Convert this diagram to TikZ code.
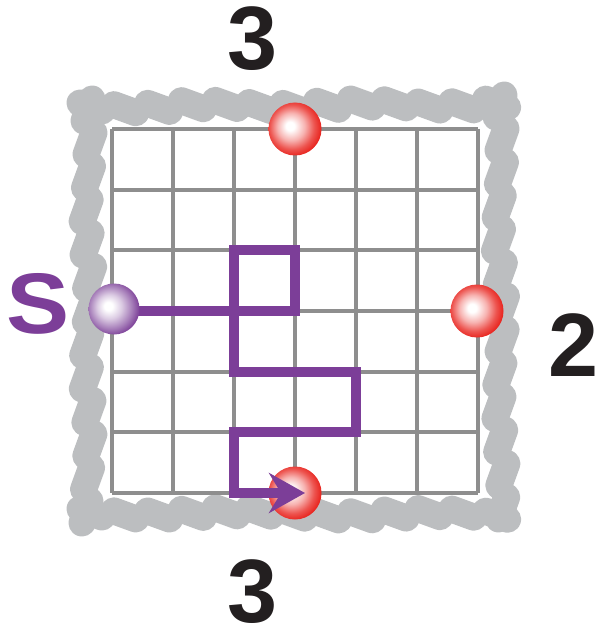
\documentclass[tikz,border=0pt]{standalone}
\usepackage{fontspec}
\setmainfont{Liberation Sans}
\usetikzlibrary{arrows.meta}
\definecolor{purp}{RGB}{124,62,152}
\definecolor{gridgray}{RGB}{142,142,142}
\definecolor{bordergray}{RGB}{188,190,192}
\definecolor{ballred}{RGB}{232,36,30}
\definecolor{ballpurp}{RGB}{128,70,155}
\definecolor{inkblack}{RGB}{35,31,32}
\pgfdeclareradialshading{redball}{\pgfqpoint{-5bp}{3bp}}{color(0bp)=(white); color(4bp)=(white); color(13bp)=(ballred!35!white); color(21bp)=(ballred!78!white); color(27bp)=(ballred); color(50bp)=(ballred)}
\pgfdeclareradialshading{purpleball}{\pgfqpoint{-6bp}{3bp}}{color(0bp)=(white); color(4bp)=(white); color(12bp)=(ballpurp!28!white); color(21bp)=(ballpurp!70!white); color(27bp)=(ballpurp); color(50bp)=(ballpurp)}
\begin{document}
\begin{tikzpicture}[x=1pt,y=-1pt,
  gridline/.style={gridgray, line width=4pt},
  blob/.style={bordergray, line width=27pt, line cap=round},
  route/.style={purp, line width=10pt, line join=miter, line cap=butt},
  redsphere/.style={circle, minimum size=53pt, inner sep=0pt, shade, shading=redball},
  purpsphere/.style={circle, minimum size=51pt, inner sep=0pt, shade, shading=purpleball},
  bignum/.style={inner sep=0pt, text=inkblack, font=\fontsize{90}{90}\selectfont\bfseries}
]
\useasboundingbox (0,0) rectangle (597,631);
% squiggly border, drawn as overlapping brush strokes
\foreach \k in {0,...,12} {
  % top
  \pgfmathsetmacro\cx{91+33.8*\k}\pgfmathsetmacro\cy{107+2*sin(\k*77)-0.25*\k}
  \draw[blob] (\cx-11,\cy-4) -- (\cx+11,\cy+4);
  % bottom
  \pgfmathsetmacro\cx{91+33.8*\k}\pgfmathsetmacro\cy{513+2*sin(\k*61)+0.15*\k}
  \draw[blob] (\cx-11,\cy-4) -- (\cx+11,\cy+4);
  % left
  \pgfmathsetmacro\cx{88+2*sin(\k*83)}\pgfmathsetmacro\cy{110+33.5*\k}
  \draw[blob] (\cx+4,\cy-11) -- (\cx-4,\cy+11);
  % right
  \pgfmathsetmacro\cx{500+2*sin(\k*71)+0.1*\k}\pgfmathsetmacro\cy{106+33.5*\k}
  \draw[blob] (\cx+4,\cy-11) -- (\cx-4,\cy+11);
}
% grid
\foreach \i in {0,...,6} {
  \draw[gridline] ({112+61*\i},129) -- ({112+61*\i},493);
  \draw[gridline] (112,{129+60.67*\i}) -- (478,{129+60.67*\i});
}
% corner coordinates
\coordinate (c1) at (295,311);
\coordinate (c2) at (295,250.3);
\coordinate (c3) at (234,250.3);
\coordinate (c4) at (234,371.7);
\coordinate (c5) at (356,371.7);
\coordinate (c6) at (356,432.3);
\coordinate (c7) at (234,432.3);
\coordinate (c8) at (234,493);
\coordinate (tip) at (305,493);
% spheres
\node[redsphere] (bottom) at (295,493) {};
\node[redsphere] (top) at (295,129) {};
\node[redsphere] (right) at (477,311) {};
\coordinate (start) at (112,311);
\draw[route, -{Stealth[length=36pt,width=40pt,inset=12pt]}]
  (start) -- (c1) -- (c2) -- (c3) -- (c4) -- (c5) -- (c6) -- (c7) -- (c8) -- (tip);
\node[purpsphere] (S) at (114,309) {};
% labels
\node[bignum] (ltop) at (253,39) {3};
\node[bignum] (lbottom) at (253,592) {3};
\node[bignum] (lright) at (574,345) {2};
\node[inner sep=0pt, text=purp, font=\fontsize{86}{86}\selectfont\bfseries, xscale=1.1] (lS) at (38,304) {S};
\end{tikzpicture}
\end{document}
